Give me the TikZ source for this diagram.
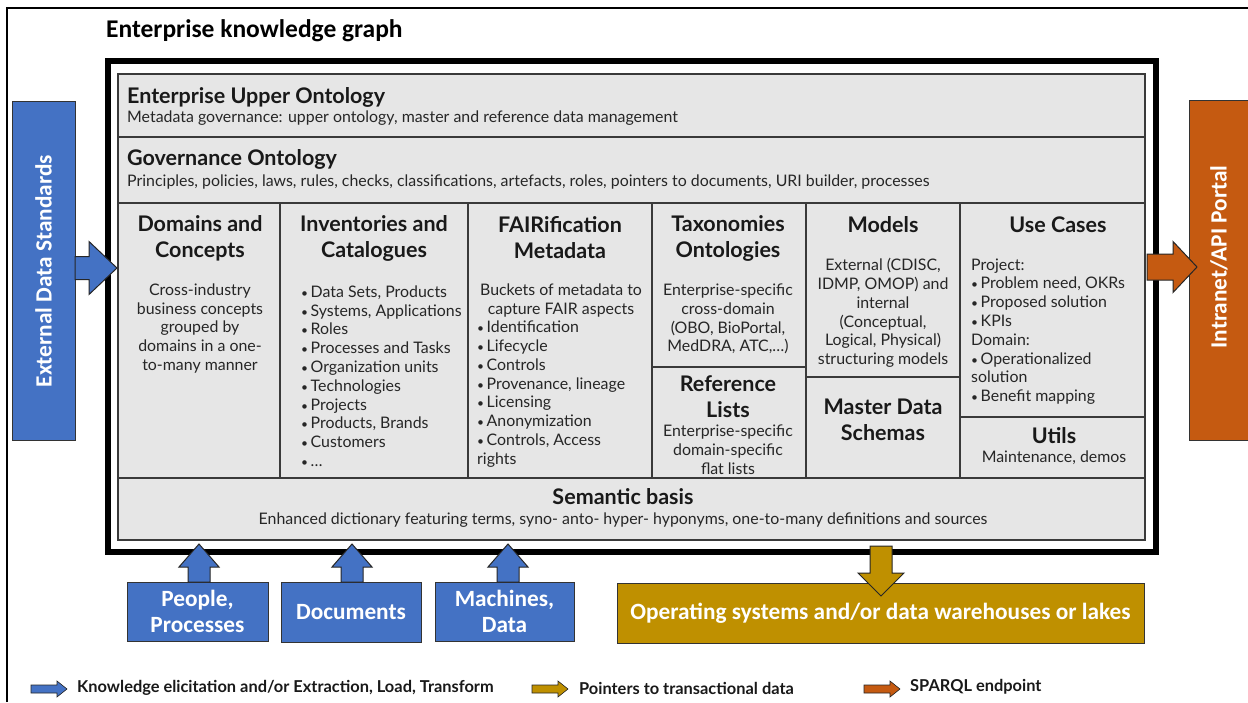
\documentclass[tikz,border=0pt]{standalone}
\usepackage{fontspec}
\setmainfont{Lato}
\newfontfamily\calfont{Carlito}
\usetikzlibrary{fit}
\definecolor{cellgray}{HTML}{E6E6E6}
\definecolor{edgegray}{HTML}{3A3A3A}
\definecolor{eblue}{HTML}{4472C4}
\definecolor{eorange}{HTML}{C55A11}
\definecolor{egold}{HTML}{BF9000}
\newcommand{\bl}{\makebox[9.5pt][l]{\fontsize{12}{12}\selectfont •}}
\begin{document}
\begin{tikzpicture}[x=1pt,y=-1pt,
  cell/.style={draw=edgegray, line width=1.3pt, fill=cellgray, inner sep=0pt},
  hd/.style={font=\fontsize{21.5}{26}\selectfont\bfseries, align=center, inner sep=0pt, text=black!90},
  bd/.style={font=\fontsize{15.9}{18.8}\selectfont, inner sep=0pt, text=black!85},
  bdc/.style={bd, align=center},
  bdl/.style={bd, align=left, anchor=west},
  bluebox/.style={draw=black!80, line width=1pt, fill=eblue, inner sep=0pt},
  goldbox/.style={draw=black!80, line width=1pt, fill=egold, inner sep=0pt},
  boxtext/.style={font=\calfont\fontsize{23.3}{26.5}\selectfont\bfseries, text=white, align=center, inner sep=0pt},
  barr/.style={draw=black!85, line width=1pt, fill=eblue},
  oarr/.style={draw=black!85, line width=1pt, fill=eorange},
  garr/.style={draw=black!85, line width=1pt, fill=egold},
  lgtext/.style={font=\fontsize{16.4}{18}\selectfont\bfseries, anchor=west, inner sep=0pt, text=black!90}
]
\useasboundingbox (0,0) rectangle (1248,702);
\fill[white] (0,0) rectangle (1248,702);
% outer thin frame
\draw[line width=1.5pt] (7,702) -- (7,8) -- (1248,8);

% title
\node[font=\calfont\fontsize{25.5}{29}\selectfont\bfseries, anchor=west, inner sep=0pt] (title) at (106,31) {Enterprise knowledge graph};

% thick frame
\draw[line width=6pt] (108,60.5) rectangle (1156,552);

% cells
\node[cell, fit={(118,74) (1145,137)}] (upper) {};
\node[cell, fit={(118,137) (1145,203)}] (gov) {};
\node[cell, fit={(118,203) (280,478)}] (dom) {};
\node[cell, fit={(280,203) (468,478)}] (inv) {};
\node[cell, fit={(468,203) (652,478)}] (fair) {};
\node[cell, fit={(652,203) (806,367)}] (tax) {};
\node[cell, fit={(652,367) (806,478)}] (ref) {};
\node[cell, fit={(806,203) (960,377)}] (models) {};
\node[cell, fit={(806,377) (960,478)}] (master) {};
\node[cell, fit={(960,203) (1145,417)}] (use) {};
\node[cell, fit={(960,417) (1145,478)}] (utils) {};
\node[cell, fit={(118,478) (1145,540)}] (sem) {};

% upper ontology
\node[hd, anchor=west] (upperT) at (127,97) {Enterprise Upper Ontology};
\node[bdl] (upperS) at (127,118) {Metadata governance: upper ontology, master and reference data management};
% governance
\node[hd, anchor=west] (govT) at (127,159) {Governance Ontology};
\node[bdl] (govS) at (127,182) {Principles, policies, laws, rules, checks, classifications, artefacts, roles, pointers to documents, URI builder, processes};

% domains
\node[hd] (domT) at (200,238) {Domains and\\Concepts};
\node[bdc] (domB) at (200,328.5) {Cross-industry\\business concepts\\grouped by\\domains in a one-\\to-many manner};
% inventories
\node[hd] (invT) at (374,238) {Inventories and\\Catalogues};
\node[bdl] (invB) at (301,376) {\bl Data Sets, Products\\\bl Systems, Applications\\\bl Roles\\\bl Processes and Tasks\\\bl Organization units\\\bl Technologies\\\bl Projects\\\bl Products, Brands\\\bl Customers\\\bl \dots};
% fair
\node[hd] (fairT) at (560,238) {FAIRification\\Metadata};
\node[bdc] (fairB1) at (561,300.5) {Buckets of metadata to\\capture FAIR aspects};
\node[bdl] (fairB2) at (477,394) {\bl Identification\\\bl Lifecycle\\\bl Controls\\\bl Provenance, lineage\\\bl Licensing\\\bl Anonymization\\\bl Controls, Access\\rights};
% taxonomies
\node[hd] (taxT) at (728,238) {Taxonomies\\Ontologies};
\node[bdc] (taxB) at (728,319) {Enterprise-specific\\cross-domain\\(OBO, BioPortal,\\MedDRA, ATC,\dots)};
% reference
\node[hd] (refT) at (728,396.5) {Reference\\Lists};
\node[bdc] (refB) at (728,450) {Enterprise-specific\\domain-specific\\flat lists};
% models
\node[hd] (modT) at (883,225) {Models};
\node[bdc] (modB) at (883,313) {External (CDISC,\\IDMP, OMOP) and\\internal\\(Conceptual,\\Logical, Physical)\\structuring models};
% master
\node[hd] (masT) at (883,419.5) {Master Data\\Schemas};
% use cases
\node[hd] (useT) at (1058,225) {Use Cases};
\node[bdl] (useB) at (971,331.5) {Project:\\\bl Problem need, OKRs\\\bl Proposed solution\\\bl KPIs\\Domain:\\\bl Operationalized\\solution\\\bl Benefit mapping};
% utils
\node[hd] (utT) at (1054,436) {Utils};
\node[bdc] (utB) at (1054,458) {Maintenance, demos};
% semantic basis
\node[hd] (semT) at (623,497) {Semantic basis};
\node[bdc] (semB) at (623,520) {Enhanced dictionary featuring terms, syno- anto- hyper- hyponyms, one-to-many definitions and sources};

% external data standards
\node[bluebox, fit={(12,101) (75,440)}] (ext) {};
\node[boxtext, rotate=90] (extT) at (43.5,271) {External Data Standards};
\draw[barr] (75,256.5) -- (89,256.5) -- (89,241.5) -- (117,268) -- (89,294.5) -- (89,279.5) -- (75,279.5) -- cycle;

% intranet portal
\path[fill=eorange] (1189,100) rectangle (1252,440);
\draw[black!80, line width=1pt] (1252,100) -- (1189,100) -- (1189,440) -- (1252,440);
\node[boxtext, rotate=90] (portT) at (1219,257) {Intranet/API Portal};
\draw[oarr] (1147,254) -- (1173,254) -- (1173,241.5) -- (1197,267) -- (1173,292.5) -- (1173,280) -- (1147,280) -- cycle;

% bottom boxes
\node[bluebox, fit={(127,582) (268,641)}] (people) {};
\node[boxtext] (peopleT) at (people.center) {People,\\Processes};
\node[bluebox, fit={(281,582) (421,642)}] (docs) {};
\node[boxtext] (docsT) at (docs.center) {Documents};
\node[bluebox, fit={(435,582) (574,641)}] (mach) {};
\node[boxtext] (machT) at (mach.center) {Machines,\\Data};
\node[goldbox, fit={(617,583) (1144,643)}] (ops) {};
\node[boxtext] (opsT) at (ops.center) {Operating systems and/or data warehouses or lakes};

% up arrows
\foreach \c in {199,352,508}{
  \draw[barr] (\c-11,582) -- (\c-11,567) -- (\c-20,567) -- (\c,544) -- (\c+20,567) -- (\c+11,567) -- (\c+11,582) -- cycle;
}
% down gold arrow
\draw[garr] (870,546) -- (892,546) -- (892,573) -- (904,573) -- (881,596) -- (858,573) -- (870,573) -- cycle;

% legend
\draw[barr, line width=0.6pt] (31,685) -- (57,685) -- (57,681) -- (67,689) -- (57,697) -- (57,693) -- (31,693) -- cycle;
\node[lgtext] (lg1) at (77,688) {Knowledge elicitation and/or Extraction, Load, Transform};
\draw[garr, line width=0.6pt] (532,685) -- (558,685) -- (558,681) -- (568,689) -- (558,697) -- (558,693) -- (532,693) -- cycle;
\node[lgtext] (lg2) at (579,688) {Pointers to transactional data};
\draw[oarr, line width=0.6pt] (864,685) -- (890,685) -- (890,681) -- (900,689) -- (890,697) -- (890,693) -- (864,693) -- cycle;
\node[lgtext] (lg3) at (910,687) {SPARQL endpoint};
\end{tikzpicture}
\end{document}
